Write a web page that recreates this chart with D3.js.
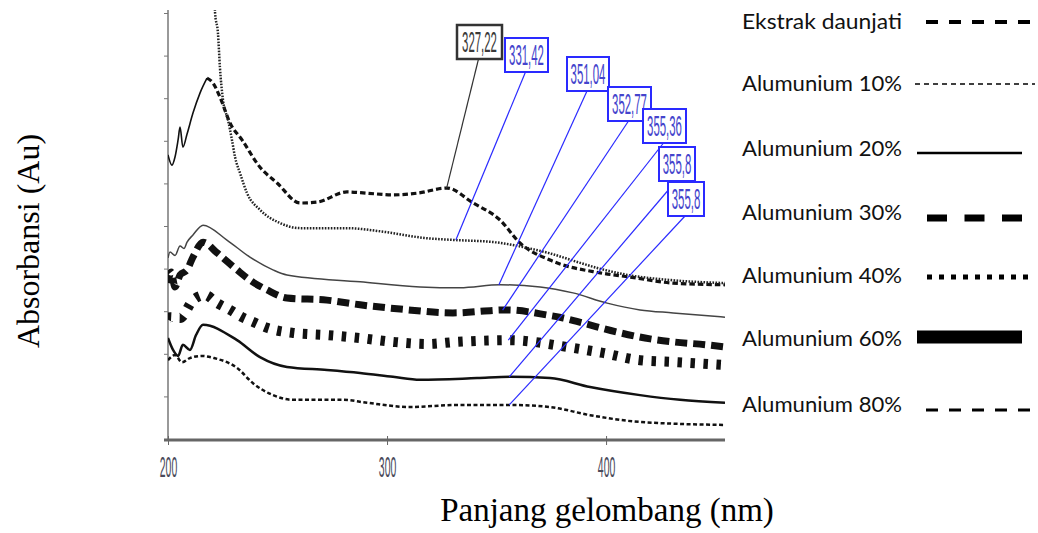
<!DOCTYPE html>
<html lang="id">
<head>
    <meta charset="UTF-8">
    <title>Spektrum UV-Vis</title>
    <script src="https://cdn.jsdelivr.net/npm/d3@7"></script>
    <style>
        body { margin: 0; background: #fff; }
        svg { display: block; }
    </style>
</head>
<body>
<script>
    // data: [panjang gelombang (nm), absorbansi relatif]
    const ekstrak = [[200, 0.667], [201.8, 0.643], [203.2, 0.662], [204.6, 0.702], [205.5, 0.732], [206.8, 0.685],
        [208.7, 0.716], [211.4, 0.765], [214.6, 0.812], [217.8, 0.847], [220.5, 0.836], [223.7, 0.803],
        [228.3, 0.742], [233.8, 0.702], [242.0, 0.638], [249.8, 0.601], [260.3, 0.554], [268.0, 0.556],
        [281.7, 0.580], [290.9, 0.577], [302.7, 0.573], [313.7, 0.577], [327.4, 0.589], [339.3, 0.554],
        [351.6, 0.514], [360.7, 0.460], [374.4, 0.420], [397.3, 0.390], [411.0, 0.380], [430.6, 0.366], [454.3, 0.362]]
    const al10 = [[220.8, 1.08], [221.5, 1.0], [222.8, 0.953], [223.7, 0.873], [225.1, 0.796], [227.4, 0.749],
        [229.2, 0.702], [230.6, 0.662], [232.9, 0.624], [236.1, 0.577], [242.0, 0.538], [251.1, 0.507],
        [260.3, 0.495], [281.3, 0.495], [299.1, 0.486], [316.9, 0.472], [331.5, 0.467], [349.3, 0.462],
        [364.4, 0.448], [373.5, 0.437], [387.2, 0.415], [396.3, 0.401], [410.0, 0.385], [429.7, 0.373], [454.3, 0.366]]
    const al20 = [[200, 0.425], [200.9, 0.439], [203.2, 0.431], [205.5, 0.453], [207.3, 0.447], [208.7, 0.462],
        [211.4, 0.479], [216.0, 0.502], [226.9, 0.467], [237.4, 0.427], [247.9, 0.397], [254.3, 0.385],
        [287.7, 0.369], [315.1, 0.357], [333.3, 0.355], [351.6, 0.362], [369.9, 0.357], [384.9, 0.343],
        [400.5, 0.319], [415.5, 0.303], [430.6, 0.296], [454.3, 0.286]]
    const al30 = [[200, 0.366], [201.4, 0.392], [203.2, 0.357], [205.5, 0.385], [208.7, 0.397], [211.4, 0.427],
        [216.0, 0.462], [222.4, 0.437], [231.5, 0.397], [237.4, 0.373], [245.2, 0.350], [254.3, 0.331],
        [272.6, 0.326], [287.7, 0.315], [306.0, 0.305], [330.1, 0.296], [354.8, 0.303], [373.1, 0.291],
        [380.4, 0.284], [389.5, 0.272], [405.0, 0.251], [420.1, 0.235], [430.6, 0.228], [446.1, 0.221], [454.3, 0.216]]
    const al40 = [[200, 0.280], [200.9, 0.286], [205.5, 0.284], [211.4, 0.326], [216.9, 0.338], [222.4, 0.319],
        [228.3, 0.303], [233.8, 0.286], [238.8, 0.275], [245.2, 0.261], [257.1, 0.249], [272.6, 0.244],
        [287.7, 0.237], [302.7, 0.228], [318.3, 0.223], [332.0, 0.228], [356.2, 0.232], [382.2, 0.216],
        [398.6, 0.202], [415.5, 0.185], [430.6, 0.181], [453.4, 0.174]]
    const al60 = [[200, 0.237], [202.3, 0.209], [204.6, 0.195], [206.8, 0.221], [210.0, 0.209], [212.8, 0.244],
        [216.0, 0.268], [231.5, 0.232], [242.0, 0.192], [254.3, 0.169], [272.6, 0.162], [287.7, 0.155],
        [302.7, 0.146], [315.1, 0.139], [341.1, 0.143], [356.2, 0.146], [374.4, 0.143], [392.7, 0.122],
        [415.5, 0.103], [433.8, 0.092], [454.3, 0.085]]
    const al80 = [[200, 0.185], [203.2, 0.197], [206.4, 0.180], [210.0, 0.190], [215.5, 0.195], [221.0, 0.190],
        [231.5, 0.167], [238.8, 0.131], [247.9, 0.103], [257.1, 0.092], [279.9, 0.092], [290.9, 0.085],
        [310.5, 0.075], [332.0, 0.080], [356.2, 0.080], [374.4, 0.075], [392.7, 0.056], [415.5, 0.040], [454.3, 0.033]]

    const legendNames = ['Ekstrak daunjati', 'Alumunium 10%', 'Alumunium 20%', 'Alumunium 30%',
        'Alumunium 40%', 'Alumunium 60%', 'Alumunium 80%']
    const peakText = ['327,22', '331,42', '351,04', '352,77', '355,36', '355,8', '355,8']
    const peakNm = [327.22, 331.42, 351.04, 352.77, 355.36, 355.8, 355.8]
    const xTicks = [200, 300, 400]

    const seriesData = [ekstrak, al10, al20, al30, al40, al60, al80]

    // gaya garis di grafik
    const lineStyles = [
        {w: 3.2, dash: '5.5,3', color: '#111'},
        {w: 2.5, dash: '1.6,1.4', color: '#222'},
        {w: 1.5, dash: null, color: '#444'},
        {w: 7, dash: '12,6', color: '#111'},
        {w: 10, dash: '4.5,8.5', color: '#111'},
        {w: 2.5, dash: null, color: '#111'},
        {w: 2.5, dash: '4,2.5', color: '#111'}
    ]
    // gaya garis di legenda
    const legendStyles = [
        {x1: 926, x2: 1030, y: 22, w: 4, dash: '12,11'},
        {x1: 915, x2: 1035, y: 84, w: 1.5, dash: '5,4'},
        {x1: 917, x2: 1022, y: 153, w: 2.5, dash: null},
        {x1: 927, x2: 1022, y: 218, w: 7, dash: '20,17.5'},
        {x1: 927, x2: 1030, y: 277, w: 5, dash: '5,7'},
        {x1: 917, x2: 1022, y: 337, w: 13, dash: null},
        {x1: 926, x2: 1030, y: 410, w: 3, dash: '12,11'}
    ]
    const legendTextY = [22, 84, 149, 213, 276, 339, 405]
    // posisi kotak label puncak (kiri, atas, lebar)
    const boxLayout = [[457, 25, 45], [505, 38, 43], [567, 57, 42], [608, 87, 43], [643, 109, 43], [659, 147, 36], [668, 182, 36]]

    const width = 1038, height = 533
    const plot = {left: 168, right: 725, top: 10, bottom: 439}

    const svg = d3.select('body').append('svg')
        .attr('width', width)
        .attr('height', height)

    const x = d3.scaleLinear().domain([200, 454.3]).range([plot.left, plot.right])
    const y = d3.scaleLinear().domain([0, 1]).range([plot.bottom, 13])

    svg.append('defs').append('clipPath').attr('id', 'plotClip')
        .append('rect')
        .attr('x', plot.left).attr('y', plot.top)
        .attr('width', plot.right - plot.left).attr('height', plot.bottom - plot.top)

    // sumbu y (tanpa label angka)
    const yAxis = svg.append('g')
        .attr('transform', `translate(${plot.left},0)`)
        .call(d3.axisLeft(y).tickValues(d3.range(0, 1.01, 0.1)).tickSize(4).tickFormat(''))
    yAxis.select('.domain').attr('stroke', '#777').attr('stroke-width', 1.5)
        .attr('d', `M0,${plot.top}V${plot.bottom}`)
    yAxis.selectAll('.tick line').attr('stroke', '#777')

    // sumbu x, label angka sempit dan tinggi
    const xAxis = svg.append('g')
        .attr('transform', `translate(0,${plot.bottom + 1})`)
        .call(d3.axisBottom(x).tickValues(xTicks).tickSize(5).tickFormat(''))
    xAxis.select('.domain').attr('stroke', '#666').attr('stroke-width', 3)
        .attr('d', `M${plot.left - 4},0H${plot.right}`)
    xAxis.selectAll('.tick line').attr('stroke', '#666').attr('y1', -4)
    xAxis.selectAll('.tick').append('text')
        .attr('transform', 'translate(0,37) scale(0.55,1.6)')
        .attr('text-anchor', 'middle')
        .attr('fill', '#4a4a5a')
        .style('font-family', '"Liberation Sans", sans-serif')
        .style('font-size', '19px')
        .text(d => d3.format('d')(d))

    const line = d3.line()
        .x(d => x(d[0]))
        .y(d => y(d[1]))
        .curve(d3.curveMonotoneX)

    const linesG = svg.append('g').attr('clip-path', 'url(#plotClip)')
    seriesData.forEach((data, i) => {
        const st = lineStyles[i]
        let pts = data
        if (i === 0) {
            // awal kurva ekstrak digambar garis tipis tak putus
            const head = data.filter(d => d[0] <= 218.5)
            pts = data.filter(d => d[0] >= 217.8)
            linesG.append('path')
                .attr('d', line(head))
                .attr('fill', 'none')
                .attr('stroke', st.color)
                .attr('stroke-width', 1.6)
        }
        linesG.append('path')
            .attr('class', 'series')
            .attr('d', line(pts))
            .attr('fill', 'none')
            .attr('stroke', st.color)
            .attr('stroke-width', st.w)
            .attr('stroke-dasharray', st.dash)
    })

    // label puncak
    function valueAt(data, nm) {
        const i = d3.bisector(d => d[0]).left(data, nm)
        const a = data[Math.max(0, i - 1)], b = data[Math.min(data.length - 1, i)]
        if (a[0] === b[0]) return a[1]
        return a[1] + (b[1] - a[1]) * (nm - a[0]) / (b[0] - a[0])
    }

    const peaksG = svg.append('g')
    peakText.forEach((t, i) => {
        const [bx, by, bw] = boxLayout[i]
        const bh = 34
        const col = i === 0 ? '#333' : '#2a2aff'
        const txtCol = i === 0 ? '#3a3a3a' : '#4444cc'
        const px = x(peakNm[i]), py = y(valueAt(seriesData[i], peakNm[i]))
        peaksG.append('line')
            .attr('x1', bx + bw / 2 - 1).attr('y1', by + bh)
            .attr('x2', px).attr('y2', py)
            .attr('stroke', col)
            .attr('stroke-width', 1.2)
        peaksG.append('rect')
            .attr('x', bx).attr('y', by)
            .attr('width', bw).attr('height', bh)
            .attr('fill', '#fff')
            .attr('stroke', col)
            .attr('stroke-width', i === 0 ? 2.5 : 2)
        peaksG.append('text')
            .attr('transform', `translate(${bx + bw / 2},${by + bh - 7}) scale(0.6,1.55)`)
            .attr('text-anchor', 'middle')
            .attr('fill', txtCol)
            .style('font-family', '"Liberation Sans", sans-serif')
            .style('font-size', '19px')
            .text(t)
    })

    // legenda
    const legendG = svg.append('g')
    legendNames.forEach((name, i) => {
        const ls = legendStyles[i]
        legendG.append('text')
            .attr('x', 742).attr('y', legendTextY[i])
            .attr('dy', '0.35em')
            .attr('fill', '#111')
            .attr('font-family', 'Lato, "Open Sans", sans-serif')
            .attr('font-size', 21)
            .attr('textLength', 160)
            .attr('lengthAdjust', 'spacingAndGlyphs')
            .text(name)
        legendG.append('line')
            .attr('x1', ls.x1).attr('x2', ls.x2)
            .attr('y1', ls.y).attr('y2', ls.y)
            .attr('stroke', '#000')
            .attr('stroke-width', ls.w)
            .attr('stroke-dasharray', ls.dash)
    })

    // judul sumbu
    svg.append('text')
        .attr('transform', 'translate(39,241) rotate(-90)')
        .attr('text-anchor', 'middle')
        .attr('font-family', '"Liberation Serif", "Times New Roman", serif')
        .attr('font-size', 32)
        .attr('fill', '#000')
        .text('Absorbansi (Au)')
    svg.append('text')
        .attr('x', 607).attr('y', 521)
        .attr('text-anchor', 'middle')
        .attr('font-family', '"Liberation Serif", "Times New Roman", serif')
        .attr('font-size', 33)
        .attr('fill', '#000')
        .text('Panjang gelombang (nm)')
</script>
</body>
</html>
